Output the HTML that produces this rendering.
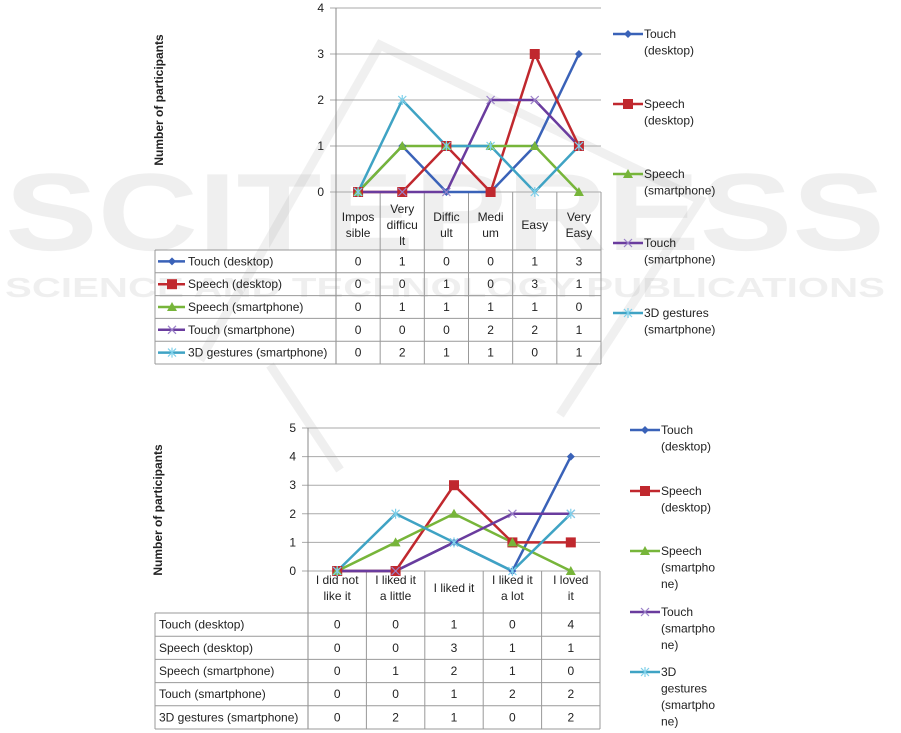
<!DOCTYPE html>
<html><head><meta charset="utf-8"><style>
html,body{margin:0;padding:0;background:#fff;}
svg{display:block;font-family:"Liberation Sans","DejaVu Sans",sans-serif;}
</style></head><body>
<svg id="s" width="901" height="733" xmlns="http://www.w3.org/2000/svg">
<g opacity="0.07" fill="#333" font-weight="bold">
<text x="5" y="250" font-size="110" textLength="880" lengthAdjust="spacingAndGlyphs">SCITEPRESS</text>
<text x="5" y="297" font-size="28" textLength="880" lengthAdjust="spacingAndGlyphs">SCIENCE AND TECHNOLOGY PUBLICATIONS</text>
</g>
<g fill="none" stroke="#888" stroke-width="9" opacity="0.13">
<path d="M200,360 L380,45 L700,200 L560,415"/>
<path d="M270,365 L340,470"/>
</g>
</svg>
<script>
const s=document.getElementById('s');const NS='http://www.w3.org/2000/svg';
function el(t,a,txt){const e=document.createElementNS(NS,t);for(const k in a)e.setAttribute(k,a[k]);if(txt!==undefined)e.textContent=txt;s.appendChild(e);return e;}
const cols=['#3a62b8','#c0282e','#77b53a','#6a3c9e','#3fa3c4'];
function marker(i,x,y){const c=cols[i];
 if(i==0)el('path',{d:`M${x},${y-4}L${x+4},${y}L${x},${y+4}L${x-4},${y}Z`,fill:c});
 else if(i==1)el('rect',{x:x-5,y:y-5,width:10,height:10,fill:c});
 else if(i==2)el('path',{d:`M${x},${y-5}L${x+5},${y+4}L${x-5},${y+4}Z`,fill:c});
 else if(i==3)el('path',{d:`M${x-4},${y-4}L${x+4},${y+4}M${x+4},${y-4}L${x-4},${y+4}`,stroke:'#9a80c8','stroke-width':1.2});
 else el('path',{d:`M${x-4},${y-4}L${x+4},${y+4}M${x+4},${y-4}L${x-4},${y+4}M${x},${y-5}L${x},${y+5}`,stroke:'#7fd0ea','stroke-width':1.2});}
function chart(o){
 const n=o.cats.length,cw=(o.R-o.L)/n,ys=(o.y0-o.ytop)/o.max;
 for(let v=0;v<=o.max;v++){const y=o.y0-v*ys;el('line',{x1:o.L-6,x2:o.R,y1:y,y2:y,stroke:'#aaa','stroke-width':1});
  el('text',{x:o.L-12,y:y+4,'font-size':12,'text-anchor':'end',fill:'#222'},v);}
 el('line',{x1:o.L,x2:o.L,y1:o.ytop,y2:o.tb+o.rh*5,stroke:'#888'});
 for(let c=0;c<n;c++){const cx=o.L+cw*(c+.5);const lines=o.cats[c];const st=o.hy-(lines.length-1)*8;
  lines.forEach((t,k)=>el('text',{x:cx,y:st+k*16,'font-size':12,'text-anchor':'middle',fill:'#222'},t));
  if(c>0)el('line',{x1:o.L+cw*c,x2:o.L+cw*c,y1:o.y0,y2:o.tb+o.rh*5,stroke:'#999'});}
 el('line',{x1:o.R,x2:o.R,y1:o.y0,y2:o.tb+o.rh*5,stroke:'#999'});
 for(let r=0;r<=5;r++){el('line',{x1:o.TL,x2:o.R,y1:o.tb+r*o.rh,y2:o.tb+r*o.rh,stroke:'#999'});}
 el('line',{x1:o.TL,x2:o.TL,y1:o.tb,y2:o.tb+o.rh*5,stroke:'#999'});
 o.names.forEach((nm,i)=>{const y=o.tb+o.rh*(i+.5);
  if(o.keys){el('line',{x1:o.TL+3,x2:o.TL+30,y1:y,y2:y,stroke:cols[i],'stroke-width':2.5});marker(i,o.TL+17,y);}
  el('text',{x:o.TL+(o.keys?33:4),y:y+4,'font-size':12,fill:'#222'},nm);
  o.data[i].forEach((v,c)=>el('text',{x:o.L+cw*(c+.5),y:y+4,'font-size':12,'text-anchor':'middle',fill:'#222'},v));});
 o.data.forEach((d,i)=>{el('polyline',{points:d.map((v,c)=>`${o.L+cw*(c+.5)},${o.y0-v*ys}`).join(' '),fill:'none',stroke:cols[i],'stroke-width':2.5});});
 o.data.forEach((d,i)=>d.forEach((v,c)=>marker(i,o.L+cw*(c+.5),o.y0-v*ys)));
 el('text',{x:0,y:0,'font-size':12,'font-weight':'bold',fill:'#222','text-anchor':'middle',transform:`translate(${o.ax},${o.ay}) rotate(-90)`},'Number of participants');
 o.leg.forEach((lg,i)=>{el('line',{x1:o.lx,x2:o.lx+30,y1:lg[0],y2:lg[0],stroke:cols[i],'stroke-width':2.5});marker(i,o.lx+15,lg[0]);
  lg[1].forEach((t,k)=>el('text',{x:o.lx+31,y:lg[0]+4+k*16.5,'font-size':12,fill:'#222'},t));});
}
const names=['Touch (desktop)','Speech (desktop)','Speech (smartphone)','Touch (smartphone)','3D gestures (smartphone)'];
chart({L:336,R:601,y0:192,ytop:8,max:4,TL:155,tb:250,rh:22.8,hy:229,keys:true,ax:163,ay:100,lx:613,
 cats:[['Impos','sible'],['Very','difficu','lt'],['Diffic','ult'],['Medi','um'],['Easy'],['Very','Easy']],names,
 data:[[0,1,0,0,1,3],[0,0,1,0,3,1],[0,1,1,1,1,0],[0,0,0,2,2,1],[0,2,1,1,0,1]],
 leg:[[34,['Touch','(desktop)']],[104,['Speech','(desktop)']],[174,['Speech','(smartphone)']],[243,['Touch','(smartphone)']],[313,['3D gestures','(smartphone)']]]});
chart({L:308,R:600,y0:571,ytop:428,max:5,TL:155,tb:613,rh:23.2,hy:592,keys:false,ax:162,ay:510,lx:630,
 cats:[['I did not','like it'],['I liked it','a little'],['I liked it'],['I liked it','a lot'],['I loved','it']],names,
 data:[[0,0,1,0,4],[0,0,3,1,1],[0,1,2,1,0],[0,0,1,2,2],[0,2,1,0,2]],
 leg:[[430,['Touch','(desktop)']],[491,['Speech','(desktop)']],[551,['Speech','(smartpho','ne)']],[612,['Touch','(smartpho','ne)']],[672,['3D','gestures','(smartpho','ne)']]]});
</script>
</body></html>
